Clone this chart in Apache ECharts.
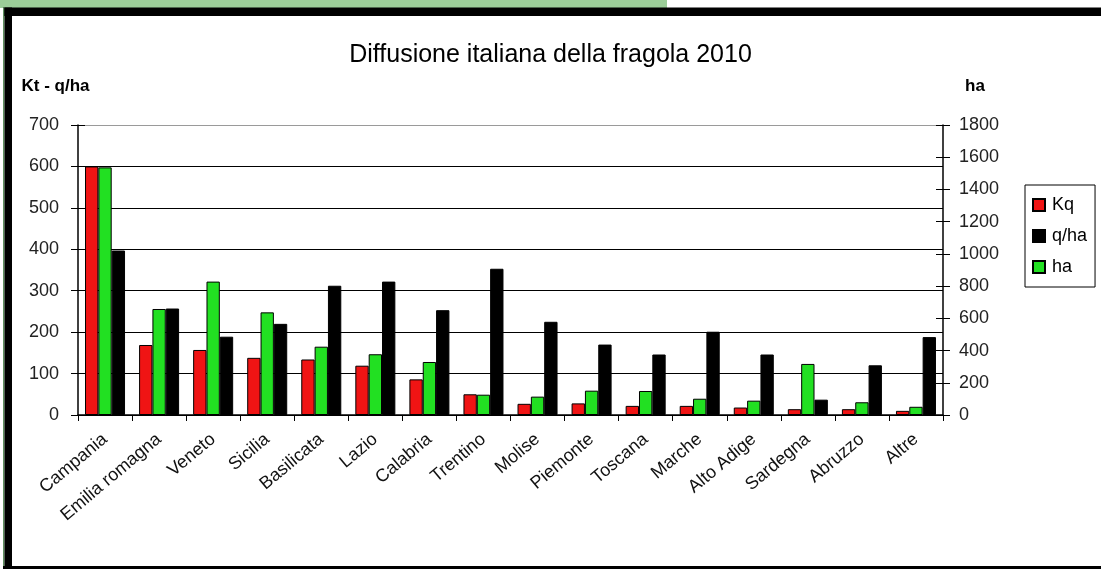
<!DOCTYPE html>
<html>
<head>
<meta charset="utf-8">
<script src="https://cdn.jsdelivr.net/npm/echarts@6/dist/echarts.min.js"></script>
<style>
html,body{margin:0;padding:0;background:#fff;}
#chart{width:1101px;height:569px;}
</style>
</head>
<body>
<div id="chart"></div>
<script>
const categories = ['Campania','Emilia romagna','Veneto','Sicilia','Basilicata','Lazio','Calabria','Trentino','Molise','Piemonte','Toscana','Marche','Alto Adige','Sardegna','Abruzzo','Altre'];
const kq  = [600,169,157,138,134,119,86,50,27,28,22,22,18,14,14,10];
const qha = [397,257,189,220,312,322,253,353,225,170,146,201,146,37,120,188];
const ha  = [1537,658,828,637,424,377,329,126,114,151,149,101,89,317,79,51];
const leftTicks = {min:0, max:700, interval:100};
const rightTicks = {min:0, max:1800, interval:200};

const FONT = 'Liberation Sans';
const chart = echarts.init(document.getElementById('chart'));
const gridColors = ['#000','#000','#000','#000','#000','#000','#000','#9a9a9a'];
chart.setOption({
  backgroundColor:'#fff',
  animation:false,
  textStyle:{fontFamily:FONT},
  title:{
    text:'Diffusione italiana della fragola 2010',
    left:'center', top:38,
    textStyle:{fontFamily:FONT, fontSize:25, fontWeight:'normal', color:'#000'}
  },
  graphic:[
    {type:'rect', shape:{x:0,y:0,width:667,height:8}, style:{fill:'#9bcd98'}, silent:true},
    {type:'rect', shape:{x:3,y:7.5,width:1098,height:8.5}, style:{fill:'#000'}, silent:true},
    {type:'rect', shape:{x:3,y:7.5,width:1.5,height:562}, style:{fill:'#5f8f5f'}, silent:true},
    {type:'rect', shape:{x:4.5,y:7.5,width:7.5,height:562}, style:{fill:'#000'}, silent:true},
    {type:'rect', shape:{x:3,y:566,width:1098,height:3}, style:{fill:'#000'}, silent:true}
  ],
  legend:{
    orient:'vertical',
    left:1025, top:185,
    data:['Kq','q/ha','ha'],
    icon:'rect',
    itemWidth:12, itemHeight:12, itemGap:13,
    padding:[11,8,11,7],
    borderColor:'#000', borderWidth:1,
    textStyle:{fontFamily:FONT, fontSize:18, color:'#000', padding:[0,0,0,2]}
  },
  grid:{left:78, right:158, top:125, bottom:154},
  xAxis:{
    type:'category',
    data:categories,
    boundaryGap:true,
    axisLine:{lineStyle:{color:'#000', width:1.5}},
    axisTick:{show:true, length:6, lineStyle:{color:'#000'}},
    axisLabel:{rotate:40, fontFamily:FONT, fontSize:18, color:'#111', margin:22, interval:0}
  },
  yAxis:[
    {type:'value', position:'left', ...leftTicks,
     name:'Kt - q/ha', nameLocation:'end', nameGap:30,
     nameTextStyle:{fontFamily:FONT, fontSize:17, fontWeight:'bold', color:'#000', align:'center', padding:[0,45,0,0]},
     axisLine:{show:true, lineStyle:{color:'#000', width:1.5}},
     axisTick:{show:true, length:7, lineStyle:{color:'#000'}},
     axisLabel:{fontFamily:FONT, fontSize:18, color:'#222', margin:19},
     splitLine:{show:true, lineStyle:{color:gridColors, width:1.2}}
    },
    {type:'value', position:'right', ...rightTicks,
     name:'ha', nameLocation:'end', nameGap:30,
     nameTextStyle:{fontFamily:FONT, fontSize:17, fontWeight:'bold', color:'#000', align:'left', padding:[0,0,0,22]},
     axisLine:{show:true, lineStyle:{color:'#000', width:1.5}},
     axisTick:{show:true, length:7, lineStyle:{color:'#000'}},
     axisLabel:{fontFamily:FONT, fontSize:18, color:'#222', margin:16, formatter:function(v){return String(v);}},
     splitLine:{show:false}
    },
    {type:'value', position:'left', ...leftTicks,
     axisLine:{show:false}, axisLabel:{show:false}, splitLine:{show:false},
     axisTick:{show:true, inside:true, length:7, lineStyle:{color:'#000'}}
    },
    {type:'value', position:'right', ...rightTicks,
     axisLine:{show:false}, axisLabel:{show:false}, splitLine:{show:false},
     axisTick:{show:true, inside:true, length:7, lineStyle:{color:'#000'}}
    }
  ],
  series:[
    {name:'Kq', type:'bar', yAxisIndex:0, data:kq, barGap:'0%', barCategoryGap:'26%',
     itemStyle:{color:'#f01414', borderColor:'#000', borderWidth:1}},
    {name:'ha', type:'bar', yAxisIndex:1, data:ha, barGap:'0%', barCategoryGap:'26%',
     itemStyle:{color:'#22e022', borderColor:'#000', borderWidth:1}},
    {name:'q/ha', type:'bar', yAxisIndex:0, data:qha, barGap:'0%', barCategoryGap:'26%',
     itemStyle:{color:'#000', borderColor:'#000', borderWidth:1}}
  ]
});
</script>
</body>
</html>
